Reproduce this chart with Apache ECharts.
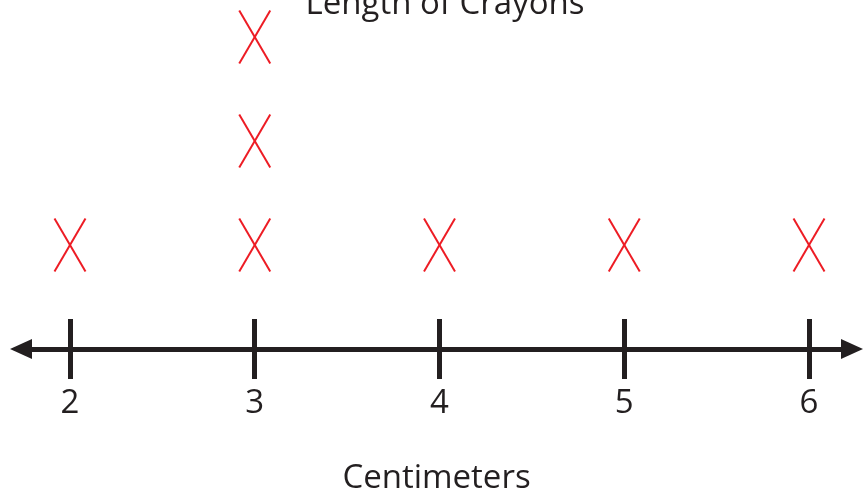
<!DOCTYPE html>
<html lang="en">
<head>
    <meta charset="UTF-8">
    <title>Length of Crayons</title>
    <style>
        html, body { margin: 0; padding: 0; background: #fff; }
        #main { width: 863px; height: 493px; }
    </style>
</head>
<body>
    <div id="main"></div>
    <script src="https://cdn.jsdelivr.net/npm/echarts@6/dist/echarts.min.js"></script>
    <script type="text/javascript">
        // one entry per crayon, length in centimeters
        var crayonLengths = [2, 3, 3, 3, 4, 5, 6];
        var tickValues = [2, 3, 4, 5, 6];
        var axisMin = 1.7348;
        var axisMax = 6.2327;

        // stack the X marks: nth crayon of the same length goes on row n
        var seen = {};
        var points = crayonLengths.map(function (v) {
            seen[v] = (seen[v] || 0) + 1;
            return [v, seen[v]];
        });

        var ink = '#231f20';
        var red = '#ed1c24';
        var font = '"Open Sans", "DejaVu Sans", sans-serif';

        var myChart = echarts.init(document.getElementById('main'));

        var option = {
            animation: false,
            title: {
                text: 'Length of Crayons',
                left: 440,
                top: -17,
                textAlign: 'center',
                textStyle: { color: ink, fontSize: 33, fontWeight: 'normal', fontFamily: font }
            },
            grid: {
                left: 21,
                right: 11,
                top: 37,
                bottom: 144,
                outerBoundsMode: 'none'
            },
            xAxis: [{
                type: 'value',
                min: axisMin,
                max: axisMax,
                position: 'bottom',
                splitLine: { show: false },
                axisLine: {
                    show: true,
                    symbol: ['triangle', 'triangle'],
                    symbolSize: [20, 22],
                    lineStyle: { color: ink, width: 5 }
                },
                axisTick: {
                    show: true,
                    inside: false,
                    length: 30,
                    customValues: tickValues,
                    lineStyle: { color: ink, width: 5 }
                },
                axisLabel: {
                    show: true,
                    customValues: tickValues,
                    margin: 38,
                    color: ink,
                    fontSize: 33,
                    lineHeight: 33,
                    fontFamily: font
                },
                name: 'Centimeters',
                nameLocation: 'middle',
                nameGap: 113,
                nameTextStyle: { color: ink, fontSize: 33, lineHeight: 33, fontFamily: font }
            }, {
                // upper half of the tick marks
                type: 'value',
                min: axisMin,
                max: axisMax,
                position: 'bottom',
                splitLine: { show: false },
                axisLine: { show: false },
                axisTick: {
                    show: true,
                    inside: true,
                    length: 30,
                    customValues: tickValues,
                    lineStyle: { color: ink, width: 5 }
                },
                axisLabel: { show: false }
            }],
            yAxis: {
                type: 'value',
                min: 0,
                max: 3,
                show: false
            },
            series: [{
                type: 'custom',
                xAxisIndex: 0,
                data: points,
                renderItem: function (params, api) {
                    var p = api.coord([api.value(0), api.value(1)]);
                    var hw = 15.5, hh = 26.5;
                    var style = { stroke: red, lineWidth: 2 };
                    return {
                        type: 'group',
                        children: [{
                            type: 'line',
                            shape: { x1: p[0] - hw, y1: p[1] - hh, x2: p[0] + hw, y2: p[1] + hh },
                            style: style
                        }, {
                            type: 'line',
                            shape: { x1: p[0] + hw, y1: p[1] - hh, x2: p[0] - hw, y2: p[1] + hh },
                            style: style
                        }]
                    };
                }
            }]
        };

        myChart.setOption(option);
    </script>
</body>
</html>
